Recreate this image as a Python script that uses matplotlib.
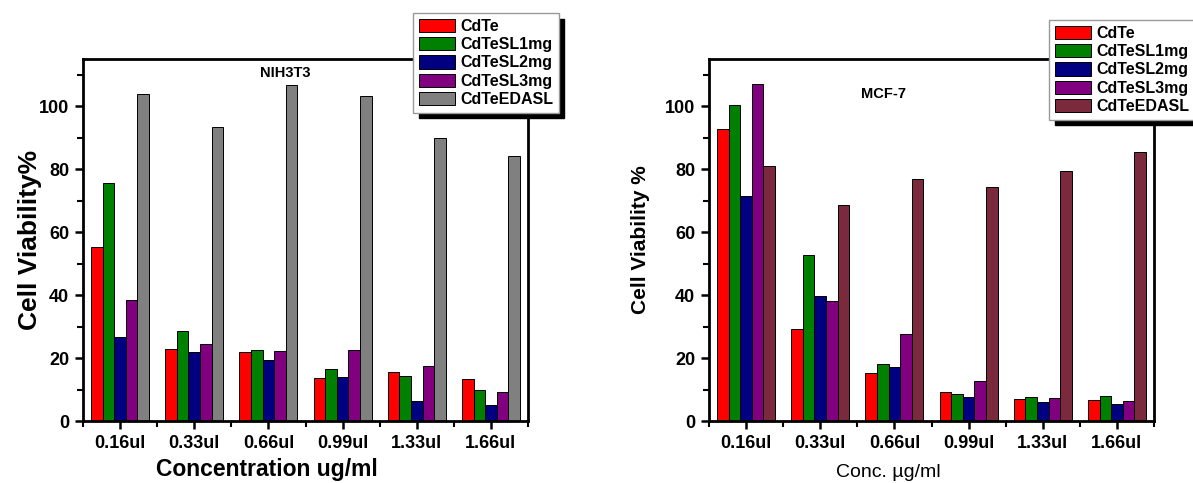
import matplotlib
matplotlib.use("Agg")
import matplotlib.pyplot as plt
import numpy as np
from matplotlib.ticker import MultipleLocator

plt.rcParams['font.family'] = ['Liberation Sans', 'DejaVu Sans']

# data
doses = ["0.16ul", "0.33ul", "0.66ul", "0.99ul", "1.33ul", "1.66ul"]
series = ["CdTe", "CdTeSL1mg", "CdTeSL2mg", "CdTeSL3mg", "CdTeEDASL"]

nih_cdte   = [55.2, 22.8, 22.0, 13.6, 15.7, 13.2]
nih_sl1    = [75.6, 28.7, 22.6, 16.5, 14.3, 9.8]
nih_sl2    = [26.8, 21.8, 19.3, 14.0, 6.2, 5.0]
nih_sl3    = [38.4, 24.6, 22.3, 22.6, 17.4, 9.2]
nih_edasl  = [103.9, 93.3, 106.7, 103.3, 89.9, 84.2]

mcf_cdte   = [92.7, 29.3, 15.4, 9.2, 7.0, 6.6]
mcf_sl1    = [100.3, 52.7, 18.2, 8.6, 7.5, 8.1]
mcf_sl2    = [71.5, 39.7, 17.3, 7.5, 5.9, 5.5]
mcf_sl3    = [107.2, 38.1, 27.6, 12.8, 7.3, 6.3]
mcf_edasl  = [81.1, 68.5, 76.8, 74.4, 79.5, 85.6]

RED, GREEN, NAVY, PURPLE = "#FF0000", "#008000", "#000080", "#800080"
GRAY, MAROON = "#808080", "#7B2A3E"

W, H = 1193, 483
fig = plt.figure(figsize=(W / 100, H / 100), dpi=100, facecolor="white")


def panel(rect, data, colors, title, title_xy, ylab, ylab_kw, ylab_x,
          xlab, xlab_kw, xlab_xy, leg_xy):
    ax = fig.add_axes(rect)
    x = np.arange(len(doses))
    bw = 0.156
    for i, (vals, c, name) in enumerate(zip(data, colors, series)):
        ax.bar(x + (i - 2) * bw, vals, bw, color=c, edgecolor="black",
               linewidth=0.7, label=name)
    ax.set_xlim(-0.5, 5.5)
    ax.set_ylim(0, 115)
    ax.set_xticks(x)
    ax.set_xticklabels(doses, fontsize=13, fontweight="bold")
    ax.set_yticks([0, 20, 40, 60, 80, 100])
    ax.set_yticklabels([0, 20, 40, 60, 80, 100], fontsize=13, fontweight="bold")
    ax.xaxis.set_minor_locator(MultipleLocator(0.5))
    ax.yaxis.set_minor_locator(MultipleLocator(10))
    ax.tick_params(which="major", direction="out", length=6, width=1.8,
                   top=False, right=False, pad=4)
    ax.tick_params(which="minor", direction="out", length=4, width=1.5,
                   top=False, right=False)
    for s in ax.spines.values():
        s.set_linewidth(2)
    ax.text(title_xy[0], title_xy[1], title, transform=ax.transAxes,
            ha="center", va="center", fontsize=10.5, fontweight="bold")
    ax.set_ylabel(ylab, va="center", **ylab_kw)
    ax.yaxis.set_label_coords(ylab_x, 0.5)
    ax.set_xlabel(xlab, va="center", **xlab_kw)
    ax.xaxis.set_label_coords(*xlab_xy)
    ax.legend(loc="upper left", bbox_to_anchor=leg_xy,
              bbox_transform=fig.transFigure, borderaxespad=0,
              fancybox=False, shadow={"ox": 4, "oy": -4, "color": "black",
                                      "alpha": 1},
              edgecolor="#999999", framealpha=1,
              prop={"size": 11.5, "weight": "bold"},
              handlelength=2.3, handleheight=0.9, handletextpad=0.3,
              labelspacing=0.2, borderpad=0.35)
    return ax


def fx(px):
    return px / W


def fy(py):
    return 1 - py / H


panel([fx(83), fy(421), fx(528) - fx(83), fy(59) - fy(421)],
      [nih_cdte, nih_sl1, nih_sl2, nih_sl3, nih_edasl],
      [RED, GREEN, NAVY, PURPLE, GRAY],
      "NIH3T3", (0.454, 0.961),
      "Cell Viability%", {"fontsize": 19, "fontweight": "bold"}, -0.119,
      "Concentration ug/ml", {"fontsize": 16.5, "fontweight": "bold"},
      (0.414, -0.135), (fx(413), fy(13)))

panel([fx(709), fy(421), fx(1154) - fx(709), fy(59) - fy(421)],
      [mcf_cdte, mcf_sl1, mcf_sl2, mcf_sl3, mcf_edasl],
      [RED, GREEN, NAVY, PURPLE, MAROON],
      "MCF-7", (0.393, 0.903),
      "Cell Viability %", {"fontsize": 15, "fontweight": "bold"}, -0.153,
      "Conc. \u00b5g/ml", {"fontsize": 14}, (0.402, -0.141),
      (fx(1049), fy(20)))

fig.savefig("out.png", dpi=100, facecolor="white")
